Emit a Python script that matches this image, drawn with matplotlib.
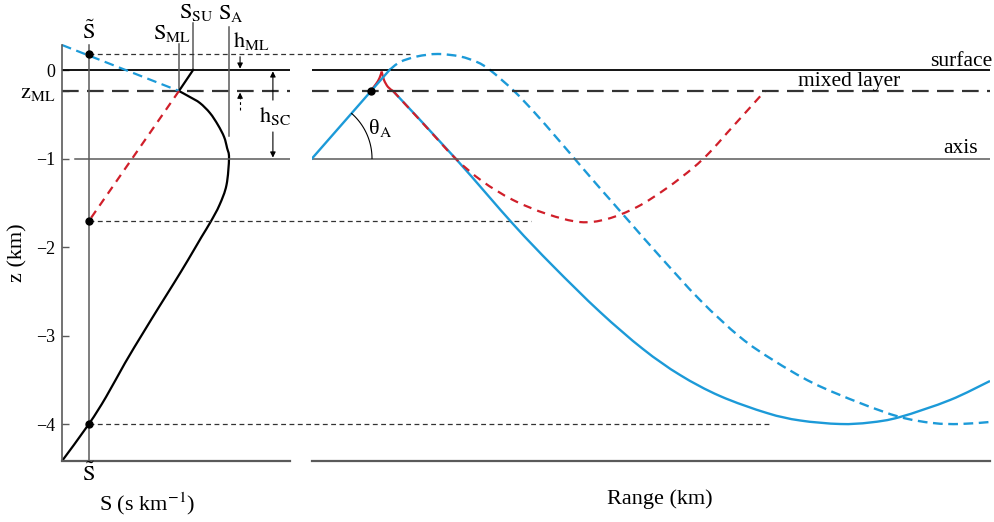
import matplotlib
matplotlib.use("Agg")
import matplotlib.pyplot as plt
from matplotlib.path import Path
from matplotlib.patches import PathPatch
import numpy as np

plt.rcParams['font.family'] = ['Liberation Serif', 'DejaVu Serif']
plt.rcParams['mathtext.fontset'] = 'stix'
plt.rcParams['lines.scale_dashes'] = False

# ---------------- data ----------------
# depth levels (km)
z_surface = 0.0
z_ml = -0.237
z_axis = -1.0
z_top, z_bottom = 0.2825, -4.418
depth_ticks = [0, z_ml, -1, -2, -3, -4]
depth_tick_labels = ['0', r'$\mathrm{z}_{\mathrm{ML}}$', '\u22121', '\u22122', '\u22123', '\u22124']

# characteristic slowness values (normalised S units)
S_tilde = 0.118
S_ml = 0.513
S_su = 0.575
S_a = 0.732

# slowness profile S(z): mixed-layer segment and deep profile
ml_S = [0.575, 0.513]
ml_z = [0.0, -0.237]
profile_S = [0.513, 0.561, 0.605, 0.649, 0.684, 0.711, 0.724, 0.7325,
             0.7215, 0.6908, 0.6513, 0.6118, 0.5526, 0.4912, 0.4254, 0.3553, 0.2763,
             0.193, 0.118, 0.0]
profile_z = [-0.237, -0.305, -0.373, -0.486, -0.621, -0.757, -0.881, -0.994,
             -1.299, -1.525, -1.718, -1.887, -2.147, -2.407, -2.678, -2.972, -3.311,
             -3.695, -4.0, -4.418]

# extrapolations of the profile (dashed)
ext_blue_S = [0.0, S_ml]
ext_blue_z = [z_top, z_ml]
ext_red_S = [S_ml, S_tilde]
ext_red_z = [z_ml, -1.706]

# turning depths where S = S~
turning_z = [0.18, -1.706, -4.0]
turning_range_end = [0.145, 0.323, 0.674]   # extent of guide lines (range units)

# rays (normalised range units, z in km)
ray_up_r = [0.0, 0.1143]
ray_up_z = [-1.0, 0.0]

ray_virtual_r = [0.1143, 0.1298, 0.1549, 0.1858, 0.2183, 0.2434, 0.2625, 0.2979, 0.3289,
                 0.3599, 0.3864, 0.4181, 0.444, 0.4698, 0.5088, 0.5723, 0.6313, 0.6799,
                 0.7389, 0.8083, 0.8673, 0.9159, 0.9558, 1.0]
ray_virtual_z = [0.0, 0.090, 0.153, 0.181, 0.153, 0.090, 0.0, -0.237, -0.486,
                 -0.757, -0.994, -1.277, -1.503, -1.729, -2.068, -2.599, -3.017, -3.277,
                 -3.537, -3.763, -3.921, -3.989, -4.0, -3.977]

ray_deep_r = [0.1195, 0.2124, 0.2965, 0.3555, 0.4248, 0.4882, 0.5428, 0.6018, 0.6711,
              0.7198, 0.7788, 0.823, 0.8673, 0.941, 1.0]
ray_deep_z = [-0.237, -1.006, -1.740, -2.215, -2.734, -3.153, -3.446, -3.684, -3.876,
              -3.960, -4.0, -3.983, -3.921, -3.729, -3.514]

ray_red_r = [0.1195, 0.1652, 0.2109, 0.2507, 0.2965, 0.3466, 0.3953, 0.4351, 0.4794,
             0.5236, 0.5619, 0.587, 0.6121, 0.6401, 0.6681]
ray_red_z = [-0.237, -0.616, -0.994, -1.254, -1.469, -1.627, -1.718, -1.684, -1.548,
             -1.333, -1.107, -0.927, -0.712, -0.475, -0.237]

cusp_left_r = [0.0866, 0.0944, 0.0996, 0.1028]
cusp_left_z = [-0.234, -0.158, -0.090, -0.017]
cusp_right_r = [0.1028, 0.1062, 0.1121, 0.1195]
cusp_right_z = [-0.017, -0.113, -0.192, -0.237]
launch_r, launch_z = 0.0866, z_ml

theta_A_deg = 48.6

# ---------------- styling ----------------
BLUE = '#1c9ad8'
RED = '#d01f2a'
GRAY = '#5a5a5a'
DARK = '#333333'

W, H = 995, 522
fig = plt.figure(figsize=(W / 100, H / 100), dpi=100)


def px_rect(x0, x1, ytop, ybot):
    return [x0 / W, 1 - ybot / H, (x1 - x0) / W, (ybot - ytop) / H]


def smooth_curve(ax, xs, ys, dashes=None, **kw):
    """Draw a smooth Bezier (Catmull-Rom) path through the given points."""
    pts = np.column_stack([xs, ys]).astype(float)
    n = len(pts)
    verts = [pts[0]]
    codes = [Path.MOVETO]
    for i in range(n - 1):
        p0 = pts[max(i - 1, 0)]
        p1 = pts[i]
        p2 = pts[i + 1]
        p3 = pts[min(i + 2, n - 1)]
        verts += [p1 + (p2 - p0) / 6.0, p2 - (p3 - p1) / 6.0, p2]
        codes += [Path.CURVE4] * 3
    patch = PathPatch(Path(verts, codes), facecolor='none', **kw)
    if dashes is not None:
        patch.set_linestyle((0, dashes))
    ax.add_patch(patch)
    return patch


ax1 = fig.add_axes(px_rect(62, 290, 45, 461))
ax2 = fig.add_axes(px_rect(312, 990, 45, 461))
for ax in (ax1, ax2):
    ax.set_xlim(0, 1)
    ax.set_ylim(z_bottom, z_top)
    ax.patch.set_visible(False)
    for sp in ax.spines.values():
        sp.set_visible(False)
    ax.set_xticks([])
ax2.set_yticks([])

ax1.spines['left'].set_visible(True)
ax1.spines['left'].set_color(GRAY)
ax1.spines['left'].set_linewidth(1.2)
ax1.set_yticks(depth_ticks)
ax1.set_yticklabels(depth_tick_labels)
ax1.tick_params(axis='y', direction='in', length=5, width=1.0, color=GRAY,
                labelsize=13, pad=5)
for lbl in ax1.get_yticklabels():
    if 'ML' in lbl.get_text():
        lbl.set_fontsize(16)

# ---- left panel ----
ax1.plot([0, 1], [z_surface] * 2, color='k', lw=1.3)
ax1.plot([0, 1], [z_ml] * 2, color=DARK, lw=1.6, dashes=(12, 6))
ax1.plot([0.057, 1], [z_axis] * 2, color=GRAY, lw=1.1)
ax1.plot([0, 1], [z_bottom] * 2, color=GRAY, lw=1.6, clip_on=False)

ax1.plot([S_tilde] * 2, [z_bottom, z_top], color=GRAY, lw=1.1, clip_on=False)
ax1.plot([S_ml] * 2, [z_ml, 0.294], color=GRAY, lw=1.1, clip_on=False)
ax1.plot([S_su] * 2, [z_surface, 0.53], color=GRAY, lw=1.1, clip_on=False)
ax1.plot([S_a] * 2, [-0.746, 0.486], color=GRAY, lw=1.1, clip_on=False)

ax1.plot(ml_S, ml_z, color='k', lw=1.6)
smooth_curve(ax1, profile_S, profile_z, edgecolor='k', lw=1.6, clip_on=False)
ax1.plot(ext_blue_S, ext_blue_z, color=BLUE, lw=1.6, dashes=(7, 4), clip_on=False)
ax1.plot(ext_red_S, ext_red_z, color=RED, lw=1.6, dashes=(6, 4.5))

# guide lines at turning depths (cross into the range panel)
for zt, rend in zip(turning_z, turning_range_end):
    x_end = 1 + (22 + rend * 678) / 228
    ax1.plot([S_tilde, x_end], [zt, zt], color=DARK, lw=0.9, dashes=(3.5, 2.5),
             clip_on=False)
ax1.plot([S_tilde] * 3, turning_z, 'o', color='k', ms=5, clip_on=False, zorder=5)

# labels on the S axis
ax1.text(S_tilde, 0.43, r'$\tilde{\mathrm{S}}$', fontsize=16, ha='center', va='center')
ax1.text(S_tilde, -4.57, r'$\tilde{\mathrm{S}}$', fontsize=16, ha='center', va='center')
ax1.text(0.482, 0.418, r'$\mathrm{S}_{\mathrm{ML}}$', fontsize=16, ha='center', va='center')
ax1.text(0.588, 0.655, r'$\mathrm{S}_{\mathrm{SU}}$', fontsize=16, ha='center', va='center')
ax1.text(0.741, 0.633, r'$\mathrm{S}_{\mathrm{A}}$', fontsize=16, ha='center', va='center')
ax1.text(0.83, 0.33, r'$\mathrm{h}_{\mathrm{ML}}$', fontsize=16, ha='center', va='center')
ax1.text(0.934, -0.52, r'$\mathrm{h}_{\mathrm{SC}}$', fontsize=16, ha='center', va='center')

arrow_kw = dict(arrowstyle='-|>', color='k', lw=0.8, mutation_scale=8,
                shrinkA=0, shrinkB=0)
ax1.annotate('', xy=(0.781, 0.015), xytext=(0.781, 0.15), arrowprops=arrow_kw,
             annotation_clip=False)
ax1.plot([0.781, 0.781], [-0.45, -0.32], color='k', lw=0.8, dashes=(2, 2))
ax1.annotate('', xy=(0.781, -0.255), xytext=(0.781, -0.32), arrowprops=arrow_kw)
ax1.annotate('', xy=(0.925, -0.015), xytext=(0.925, -0.34), arrowprops=arrow_kw)
ax1.annotate('', xy=(0.925, -0.99), xytext=(0.925, -0.70), arrowprops=arrow_kw)

ax1.set_ylabel('z (km)', fontsize=16)
ax1.yaxis.set_label_coords(-0.15, 0.5)
ax1.set_xlabel(r'S (s km$^{-1}$)', fontsize=16)
ax1.xaxis.set_label_coords(0.372, -0.072)

# ---- right panel ----
ax2.plot([0, 1], [z_surface] * 2, color='k', lw=1.3)
ax2.plot([0, 1], [z_ml] * 2, color=DARK, lw=1.6, dashes=(12, 6))
ax2.plot([0, 1], [z_axis] * 2, color=GRAY, lw=1.1)
ax2.plot([0, 1], [z_bottom] * 2, color=GRAY, lw=1.6, clip_on=False)

ax2.plot(ray_up_r, ray_up_z, color=BLUE, lw=1.7)
smooth_curve(ax2, ray_virtual_r, ray_virtual_z, dashes=(7, 4), edgecolor=BLUE, lw=1.7,
             clip_on=False)
smooth_curve(ax2, ray_deep_r, ray_deep_z, edgecolor=BLUE, lw=1.7)
smooth_curve(ax2, ray_red_r, ray_red_z, dashes=(6, 4.5), edgecolor=RED, lw=1.6)
smooth_curve(ax2, cusp_left_r, cusp_left_z, edgecolor=RED, lw=1.6)
smooth_curve(ax2, cusp_right_r, cusp_right_z, edgecolor=RED, lw=1.6)
ax2.plot([launch_r], [launch_z], 'o', color='k', ms=5, zorder=5)

# launch angle arc (60 px radius)
t = np.radians(np.linspace(0, theta_A_deg, 60))
ax2.plot(60 * np.cos(t) / 678, z_axis + 60 * np.sin(t) / 88.5, color='k', lw=0.8)
ax2.text(0.100, -0.655, '\u03b8$_{\\mathrm{A}}$', fontsize=16, ha='center', va='center')

ax2.text(1.003, 0.10, 'surface', fontsize=15.5, ha='right', va='center')
ax2.text(0.792, -0.13, 'mixed layer', fontsize=15.5, ha='center', va='center')
ax2.text(0.982, -0.89, 'axis', fontsize=15.5, ha='right', va='center')

ax2.set_xlabel('Range (km)', fontsize=16)
ax2.xaxis.set_label_coords(0.513, -0.068)

fig.savefig('out.png', dpi=100)
